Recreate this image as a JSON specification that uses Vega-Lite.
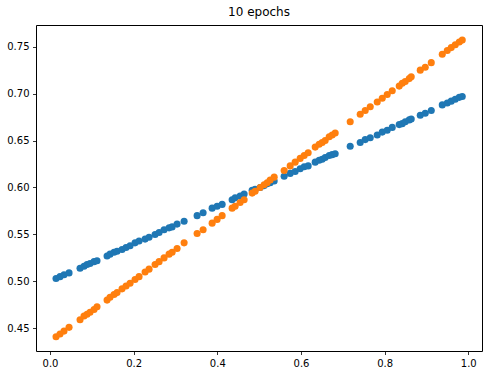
{
  "$schema": "https://vega.github.io/schema/vega-lite/v6.json",
  "autosize": "none",
  "width": 446,
  "height": 326,
  "padding": {"left": 36, "top": 25, "right": 7, "bottom": 26},
  "background": "white",
  "title": {"text": "10 epochs", "font": "DejaVu Sans", "fontSize": 12, "fontWeight": "normal", "color": "black", "offset": 6, "anchor": "middle"},
  "config": {
    "view": {"stroke": "black", "strokeWidth": 1},
    "axis": {
      "grid": false,
      "domain": false,
      "tickColor": "black",
      "tickSize": 3.5,
      "tickWidth": 0.8,
      "labelFont": "DejaVu Sans",
      "labelFontSize": 10,
      "labelColor": "black",
      "labelPadding": 3.5,
      "title": null
    }
  },
  "data": {
    "values": [
      {"x": 0.0144, "b": 0.503, "o": 0.441},
      {"x": 0.0239, "b": 0.505, "o": 0.444},
      {"x": 0.0335, "b": 0.507, "o": 0.447},
      {"x": 0.0455, "b": 0.509, "o": 0.451},
      {"x": 0.0718, "b": 0.514, "o": 0.459},
      {"x": 0.0813, "b": 0.516, "o": 0.463},
      {"x": 0.0885, "b": 0.518, "o": 0.465},
      {"x": 0.0957, "b": 0.519, "o": 0.467},
      {"x": 0.1053, "b": 0.521, "o": 0.470},
      {"x": 0.1124, "b": 0.522, "o": 0.473},
      {"x": 0.1364, "b": 0.527, "o": 0.480},
      {"x": 0.1435, "b": 0.529, "o": 0.483},
      {"x": 0.1531, "b": 0.531, "o": 0.486},
      {"x": 0.1603, "b": 0.532, "o": 0.488},
      {"x": 0.1722, "b": 0.534, "o": 0.492},
      {"x": 0.1818, "b": 0.536, "o": 0.495},
      {"x": 0.1914, "b": 0.538, "o": 0.498},
      {"x": 0.2033, "b": 0.541, "o": 0.502},
      {"x": 0.2129, "b": 0.543, "o": 0.505},
      {"x": 0.2273, "b": 0.545, "o": 0.510},
      {"x": 0.2368, "b": 0.547, "o": 0.513},
      {"x": 0.2512, "b": 0.550, "o": 0.518},
      {"x": 0.2608, "b": 0.552, "o": 0.521},
      {"x": 0.2727, "b": 0.555, "o": 0.525},
      {"x": 0.2847, "b": 0.557, "o": 0.529},
      {"x": 0.2919, "b": 0.558, "o": 0.531},
      {"x": 0.3038, "b": 0.561, "o": 0.535},
      {"x": 0.3206, "b": 0.564, "o": 0.541},
      {"x": 0.3517, "b": 0.570, "o": 0.551},
      {"x": 0.3660, "b": 0.573, "o": 0.555},
      {"x": 0.3876, "b": 0.578, "o": 0.562},
      {"x": 0.3995, "b": 0.580, "o": 0.566},
      {"x": 0.4115, "b": 0.582, "o": 0.570},
      {"x": 0.4354, "b": 0.587, "o": 0.578},
      {"x": 0.4426, "b": 0.589, "o": 0.580},
      {"x": 0.4545, "b": 0.591, "o": 0.584},
      {"x": 0.4641, "b": 0.593, "o": 0.587},
      {"x": 0.4833, "b": 0.597, "o": 0.594},
      {"x": 0.4904, "b": 0.598, "o": 0.596},
      {"x": 0.5024, "b": 0.600, "o": 0.600},
      {"x": 0.5120, "b": 0.602, "o": 0.603},
      {"x": 0.5191, "b": 0.604, "o": 0.605},
      {"x": 0.5263, "b": 0.605, "o": 0.608},
      {"x": 0.5359, "b": 0.607, "o": 0.611},
      {"x": 0.5598, "b": 0.612, "o": 0.618},
      {"x": 0.5742, "b": 0.615, "o": 0.623},
      {"x": 0.5861, "b": 0.617, "o": 0.627},
      {"x": 0.5981, "b": 0.620, "o": 0.631},
      {"x": 0.6077, "b": 0.622, "o": 0.634},
      {"x": 0.6172, "b": 0.623, "o": 0.637},
      {"x": 0.6340, "b": 0.627, "o": 0.643},
      {"x": 0.6435, "b": 0.629, "o": 0.646},
      {"x": 0.6507, "b": 0.630, "o": 0.648},
      {"x": 0.6579, "b": 0.632, "o": 0.650},
      {"x": 0.6675, "b": 0.634, "o": 0.654},
      {"x": 0.6746, "b": 0.635, "o": 0.656},
      {"x": 0.6818, "b": 0.636, "o": 0.658},
      {"x": 0.7177, "b": 0.644, "o": 0.670},
      {"x": 0.7416, "b": 0.648, "o": 0.678},
      {"x": 0.7536, "b": 0.651, "o": 0.682},
      {"x": 0.7656, "b": 0.653, "o": 0.686},
      {"x": 0.7823, "b": 0.656, "o": 0.691},
      {"x": 0.7943, "b": 0.659, "o": 0.695},
      {"x": 0.8062, "b": 0.661, "o": 0.699},
      {"x": 0.8182, "b": 0.664, "o": 0.703},
      {"x": 0.8349, "b": 0.667, "o": 0.708},
      {"x": 0.8421, "b": 0.668, "o": 0.711},
      {"x": 0.8493, "b": 0.670, "o": 0.713},
      {"x": 0.8589, "b": 0.672, "o": 0.716},
      {"x": 0.8636, "b": 0.673, "o": 0.718},
      {"x": 0.8852, "b": 0.677, "o": 0.725},
      {"x": 0.8971, "b": 0.679, "o": 0.728},
      {"x": 0.9115, "b": 0.682, "o": 0.733},
      {"x": 0.9378, "b": 0.688, "o": 0.742},
      {"x": 0.9498, "b": 0.690, "o": 0.746},
      {"x": 0.9593, "b": 0.692, "o": 0.749},
      {"x": 0.9689, "b": 0.694, "o": 0.752},
      {"x": 0.9785, "b": 0.696, "o": 0.755},
      {"x": 0.9856, "b": 0.697, "o": 0.757}
    ]
  },
  "encoding": {
    "x": {
      "field": "x", "type": "quantitative",
      "scale": {"domain": [-0.0335, 1.0328], "nice": false, "zero": false},
      "axis": {"values": [0, 0.2, 0.4, 0.6, 0.8, 1.0], "format": ".1f"}
    }
  },
  "layer": [
    {
      "mark": {"type": "point", "filled": true, "opacity": 1, "size": 50, "color": "#1f77b4"},
      "encoding": {
        "y": {
          "field": "b", "type": "quantitative",
          "scale": {"domain": [0.4258, 0.7731], "nice": false, "zero": false},
          "axis": {"values": [0.45, 0.5, 0.55, 0.6, 0.65, 0.7, 0.75], "format": ".2f"}
        }
      }
    },
    {
      "mark": {"type": "point", "filled": true, "opacity": 1, "size": 50, "color": "#ff7f0e"},
      "encoding": {
        "y": {"field": "o", "type": "quantitative"}
      }
    }
  ]
}
